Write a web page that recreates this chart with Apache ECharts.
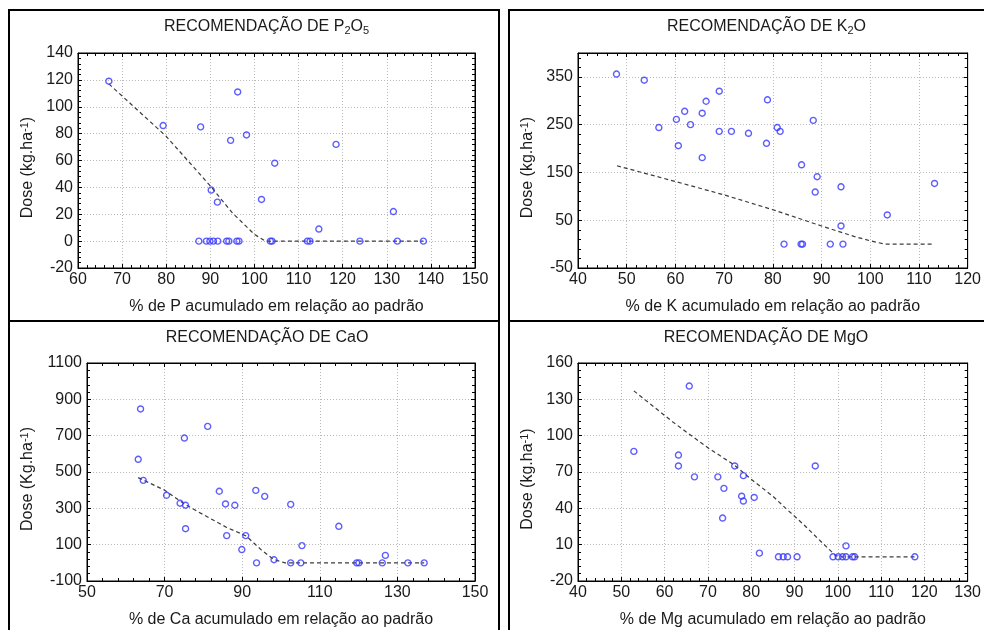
<!DOCTYPE html>
<html><head><meta charset="utf-8">
<script src="https://cdn.jsdelivr.net/npm/echarts@6/dist/echarts.min.js"></script>
<style>html,body{margin:0;padding:0;background:#fff}#c{width:984px;height:630px}</style>
</head><body><div id="c"></div>
<script>
// ---------- DATA ----------
// Panel 1: P2O5
const pX = [67.0, 79.3, 87.8, 96.2, 94.6, 98.2, 90.2, 91.6, 101.6, 104.6, 118.5, 131.5, 114.6, 87.4, 89.1, 89.9, 90.7, 91.7, 93.7, 94.2, 96.0, 96.5, 103.6, 104.0, 112.0, 112.6, 123.9, 132.4, 138.3];
const pY = [119, 86, 85, 111, 75, 79, 38, 29, 31, 58, 72, 22, 9, 0, 0, 0, 0, 0, 0, 0, 0, 0, 0, 0, 0, 0, 0, 0, 0];
const pLineX = [67, 80, 90, 95, 100, 102.5, 138.3];
const pLineY = [117, 78, 41, 21, 5, 0, 0];
const pXAxis = [60, 150, 10];
const pYAxis = [-20, 140, 20];

// Panel 2: K2O
const kX = [47.9, 53.6, 56.6, 60.2, 60.6, 61.9, 63.1, 65.5, 65.5, 66.3, 69.0, 69.0, 71.5, 75.0, 78.7, 78.9, 80.9, 81.5, 88.3, 85.9, 89.1, 88.7, 94.0, 94.0, 103.5, 113.2, 82.3, 85.8, 86.1, 91.8, 94.4];
const kY = [356, 343, 244, 261, 206, 278, 250, 274, 181, 299, 320, 236, 236, 232, 211, 302, 244, 236, 259, 166, 141, 109, 120, 38, 61, 127, 0, 0, 0, 0, 0];
const kLineX = [48, 60, 70, 80, 90, 97, 100, 103, 113.2];
const kLineY = [164, 131, 103, 72, 38, 15, 7, 0, 0];
const kXAxis = [40, 120, 10];
const kYAxis = [-50, 400, 100];

// Panel 3: CaO
const cX = [63.8, 63.2, 64.5, 70.5, 74.0, 75.4, 75.4, 75.1, 81.1, 84.1, 85.7, 88.1, 86.0, 90.9, 89.9, 93.5, 95.8, 93.7, 98.2, 102.5, 102.5, 105.1, 105.4, 114.9, 119.5, 120.1, 126.1, 126.9, 132.7, 136.9];
const cY = [847, 570, 454, 372, 328, 317, 188, 687, 751, 394, 324, 317, 150, 150, 73, 399, 366, 0, 17, 322, 0, 0, 95, 201, 0, 0, 0, 41, 0, 0];
const cLineX = [63.2, 70, 75, 80, 86, 91, 95, 98, 101, 136.9];
const cLineY = [469, 400, 325, 265, 195, 148, 70, 20, 0, 0];
const cXAxis = [50, 150, 20];
const cYAxis = [-100, 1100, 200];

// Panel 4: MgO
const mX = [52.9, 63.2, 63.2, 65.7, 66.9, 72.3, 73.7, 73.4, 76.2, 78.2, 77.8, 78.2, 80.7, 81.9, 94.8, 101.9, 86.3, 87.4, 88.4, 90.6, 98.9, 100.1, 101.1, 101.9, 103.4, 103.9, 117.8];
const mY = [87, 84, 75, 141, 66, 66, 56.5, 32, 75, 67, 50, 46, 49, 3, 75, 9, 0, 0, 0, 0, 0, 0, 0, 0, 0, 0, 0];
const mLineX = [52.9, 62, 70, 76, 80, 85, 88, 92, 96, 99.5, 101, 117.8];
const mLineY = [137, 111, 90, 76, 64, 50, 40, 27, 13, 1, 0, 0];
const mXAxis = [40, 130, 10];
const mYAxis = [-20, 160, 30];

const titles = [
  ['RECOMENDAÇÃO DE P', '2', 'O', '5'],
  ['RECOMENDAÇÃO DE K', '2', 'O', ''],
  ['RECOMENDAÇÃO DE CaO', '', '', ''],
  ['RECOMENDAÇÃO DE MgO', '', '', '']
];
const xNames = [
  '% de P acumulado em relação ao padrão',
  '% de K acumulado em relação ao padrão',
  '% de Ca acumulado em relação ao padrão',
  '% de Mg acumulado em relação ao padrão'
];
const yNames = ['Dose (kg.ha', 'Dose (kg.ha', 'Dose (Kg.ha', 'Dose (kg.ha'];
const ySup = '-1';

// ---------- CHART ----------
const FONT = '"Liberation Sans", Arial, sans-serif';
const TXT = '#1a1a1a';
const FS = 16;
const zip = (a, b) => a.map((v, i) => [v, b[i]]);

const panels = [
  {sx: pX, sy: pY, lx: pLineX, ly: pLineY, xa: pXAxis, ya: pYAxis},
  {sx: kX, sy: kY, lx: kLineX, ly: kLineY, xa: kXAxis, ya: kYAxis},
  {sx: cX, sy: cY, lx: cLineX, ly: cLineY, xa: cXAxis, ya: cYAxis},
  {sx: mX, sy: mY, lx: mLineX, ly: mLineY, xa: mXAxis, ya: mYAxis}
];
const grids = [
  {left: 78, top: 53, width: 397, height: 215},
  {left: 578, top: 53, width: 397, height: 215},
  {left: 87, top: 363, width: 388, height: 218},
  {left: 578, top: 363, width: 397, height: 218}
];
const yNameGap = [41, 41, 50, 41];
const xNameGap = [31, 31, 31, 31];
const titlePos = [[266.5, 27], [766.5, 27], [267, 338], [766, 338]];

const xAxes = [], yAxes = [], series = [];
panels.forEach((p, i) => {
  const tick = {show: true, inside: true, length: 4, lineStyle: {color: '#000'}};
  const minor = {show: true, splitNumber: 5, length: 3, lineStyle: {color: '#000'}};
  xAxes.push({
    gridIndex: i, type: 'value', position: 'bottom',
    min: p.xa[0], max: p.xa[1], interval: p.xa[2],
    axisLine: {show: true, onZero: false, lineStyle: {color: '#000'}},
    axisTick: tick, minorTick: minor,
    splitLine: {show: true, lineStyle: {color: '#b8b8b8', type: [1, 2]}},
    axisLabel: {color: TXT, fontFamily: FONT, fontSize: FS, margin: 4},
    name: xNames[i], nameLocation: 'middle', nameGap: xNameGap[i],
    nameTextStyle: {color: TXT, fontFamily: FONT, fontSize: FS}
  });
  xAxes.push({
    gridIndex: i, type: 'value', position: 'top',
    min: p.xa[0], max: p.xa[1], interval: p.xa[2],
    axisLine: {show: true, onZero: false, lineStyle: {color: '#000'}},
    axisTick: tick, minorTick: minor,
    splitLine: {show: false}, axisLabel: {show: false}
  });
  yAxes.push({
    gridIndex: i, type: 'value', position: 'left',
    min: p.ya[0], max: p.ya[1], interval: p.ya[2],
    axisLine: {show: true, onZero: false, lineStyle: {color: '#000'}},
    axisTick: tick, minorTick: minor,
    splitLine: {show: true, lineStyle: {color: '#b8b8b8', type: [1, 2]}},
    axisLabel: {color: TXT, fontFamily: FONT, fontSize: FS, margin: 5,
      formatter: v => ((v - p.ya[0]) % p.ya[2] === 0 ? String(v) : '')},
    name: '{a|' + yNames[i] + '}{s|' + ySup + '}{a|)}',
    nameLocation: 'middle', nameGap: yNameGap[i],
    nameTextStyle: {
      color: TXT, fontFamily: FONT, fontSize: FS, padding: [0, 14, 0, 0],
      rich: {
        a: {color: TXT, fontFamily: FONT, fontSize: FS, lineHeight: 18},
        s: {color: TXT, fontFamily: FONT, fontSize: 11, lineHeight: 11, verticalAlign: 'top'}
      }
    }
  });
  yAxes.push({
    gridIndex: i, type: 'value', position: 'right',
    min: p.ya[0], max: p.ya[1], interval: p.ya[2],
    axisLine: {show: true, onZero: false, lineStyle: {color: '#000'}},
    axisTick: tick, minorTick: minor,
    splitLine: {show: false}, axisLabel: {show: false}
  });
  series.push({
    type: 'line', xAxisIndex: 2 * i, yAxisIndex: 2 * i,
    data: zip(p.lx, p.ly), showSymbol: false, symbol: 'none', silent: true,
    lineStyle: {color: '#3c3c3c', width: 1.2, type: [4, 3]}, z: 2
  });
  series.push({
    type: 'scatter', xAxisIndex: 2 * i, yAxisIndex: 2 * i,
    data: zip(p.sx, p.sy), symbol: 'circle', symbolSize: 6,
    itemStyle: {color: 'none', borderColor: '#3434ff', borderWidth: 1.4}, z: 3
  });
});

const graphics = [];
[[9, 10, 490, 311], [509, 10, 500, 311], [9, 321, 490, 400], [509, 321, 500, 400]].forEach(r => {
  graphics.push({type: 'rect', shape: {x: r[0], y: r[1], width: r[2], height: r[3]},
    style: {fill: 'none', stroke: '#000', lineWidth: 2}, silent: true, z: 10});
});
titles.forEach((t, i) => {
  graphics.push({type: 'text', x: titlePos[i][0], y: titlePos[i][1], silent: true,
    style: {
      text: '{a|' + t[0] + '}' + (t[1] ? '{s|' + t[1] + '}' : '') + (t[2] ? '{a|' + t[2] + '}' : '') + (t[3] ? '{s|' + t[3] + '}' : ''),
      align: 'center', verticalAlign: 'middle',
      rich: {
        a: {fill: TXT, fontFamily: FONT, fontSize: FS, lineHeight: 18},
        s: {fill: TXT, fontFamily: FONT, fontSize: 11, lineHeight: 11, verticalAlign: 'bottom'}
      }
    }});
});

const chart = echarts.init(document.getElementById('c'), null, {renderer: 'canvas'});
chart.setOption({
  animation: false,
  backgroundColor: '#fff',
  grid: grids.map(g => Object.assign({show: true, borderColor: '#000', borderWidth: 1, backgroundColor: 'transparent'}, g)),
  xAxis: xAxes, yAxis: yAxes, series: series, graphic: graphics
});
</script></body></html>
